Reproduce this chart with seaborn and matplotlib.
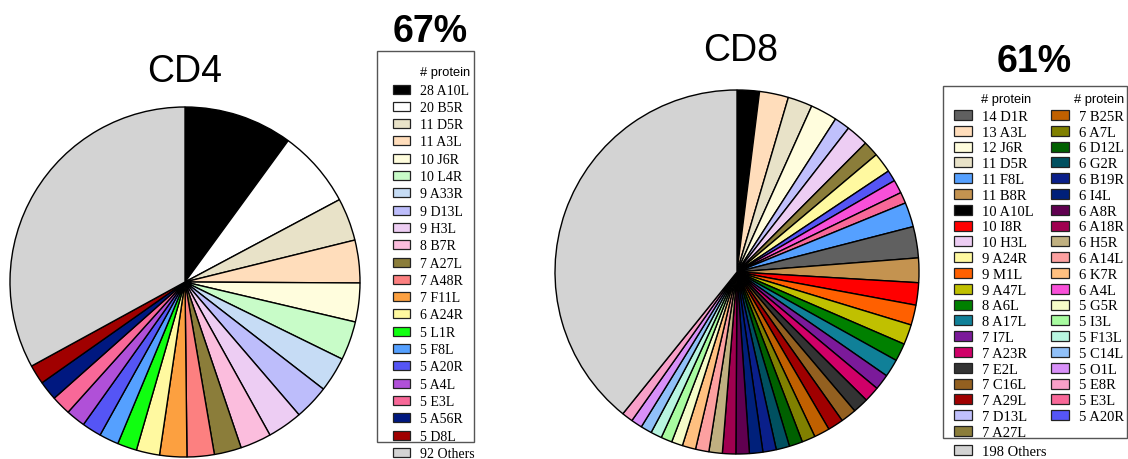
import matplotlib
matplotlib.use("Agg")
import matplotlib.pyplot as plt
from matplotlib.patches import Rectangle
import seaborn as sns

# ---- data -------------------------------------------------------------
cd4_names = ["A10L", "B5R", "D5R", "A3L", "J6R", "L4R", "A33R", "D13L", "H3L",
             "B7R", "A27L", "A48R", "F11L", "A24R", "L1R", "F8L", "A20R", "A4L",
             "E3L", "A56R", "D8L"]
cd4_counts = [28, 20, 11, 11, 10, 10, 9, 9, 9, 8, 7, 7, 7, 6, 5, 5, 5, 5, 5, 5, 5]
cd4_colors = ["#000000", "#FFFFFF", "#E8E2C8", "#FFDDBB", "#FFFDDD", "#C8FCC8",
              "#C6DCF5", "#BDBDFB", "#EDCDF3", "#FBBDDD", "#8B7D3A", "#FC8080",
              "#FCA040", "#FFF9A0", "#10FF10", "#55A0FF", "#5555F5", "#B050D8",
              "#F86898", "#001880", "#A00000"]
cd4_others = 92
cd4_share = "67%"

cd8_names = ["D1R", "A3L", "J6R", "D5R", "F8L", "B8R", "A10L", "I8R", "H3L",
             "A24R", "M1L", "A47L", "A6L", "A17L", "I7L", "A23R", "E2L", "C16L",
             "A29L", "D13L", "A27L",
             "B25R", "A7L", "D12L", "G2R", "B19R", "I4L", "A8R", "A18R", "H5R",
             "A14L", "K7R", "A4L", "G5R", "I3L", "F13L", "C14L", "O1L", "E8R",
             "E3L", "A20R"]
cd8_counts = [14, 13, 12, 11, 11, 11, 10, 10, 10, 9, 9, 9, 8, 8, 7, 7, 7, 7, 7, 7, 7,
              7, 6, 6, 6, 6, 6, 6, 6, 6, 6, 6, 6, 5, 5, 5, 5, 5, 5, 5, 5]
cd8_colors = ["#606060", "#FFDDBB", "#FFFDDD", "#E8E2C8", "#55A0FF", "#C49350",
              "#000000", "#FF0000", "#EDCDF3", "#FFF9A0", "#FF6000", "#C0C000",
              "#008000", "#108098", "#7B1A9A", "#D00068", "#333333", "#936020",
              "#A00000", "#C0C0FC", "#8B7D3A",
              "#C06000", "#808000", "#006000", "#005060", "#0A1F8A", "#00207A",
              "#600050", "#A00050", "#C0B080", "#FCA0A0", "#FFC080", "#F850D8",
              "#F5FCC8", "#A8FCA0", "#B8F5E0", "#90C0F8", "#D890F8", "#F8A0C8",
              "#F86898", "#5555F5"]
cd8_pie_order = ["A10L", "A3L", "D5R", "J6R", "D13L", "H3L", "A27L", "A24R", "A20R",
                 "A4L", "E3L", "F8L", "D1R", "B8R", "I8R", "M1L", "A47L", "A6L",
                 "A17L", "I7L", "A23R", "E2L", "C16L", "A29L", "B25R", "A7L", "D12L",
                 "G2R", "B19R", "I4L", "A8R", "A18R", "H5R", "A14L", "K7R", "G5R",
                 "I3L", "F13L", "C14L", "O1L", "E8R"]
cd8_others = 198
cd8_share = "61%"

others_color = "#D3D3D3"
header = "# protein"

# ---- figure -------------------------------------------------------------
sns.set_theme(style="white")
plt.rcParams["font.family"] = ["Liberation Sans", "DejaVu Sans"]
plt.rcParams["text.color"] = "black"

W, H = 1128, 460
fig = plt.figure(figsize=(W / 100, H / 100), dpi=100)
fig.patch.set_facecolor("white")


def fx(px):
    return px / W


def fy(py):
    return 1 - py / H


def pie_axes(cx, cy, r, values, colors):
    ax = fig.add_axes([fx(cx - r), fy(cy + r), 2 * r / W, 2 * r / H])
    wedges, _ = ax.pie(values, colors=colors, startangle=90, counterclock=False,
                       wedgeprops=dict(edgecolor="black", linewidth=1.0))
    for w in wedges:
        w.set_clip_on(False)
    ax.set_xlim(-1, 1)
    ax.set_ylim(-1, 1)
    ax.set_aspect("equal")
    ax.axis("off")
    return ax


def key_entry(x_sw, x_tx, y, color, label, fs, sw_w, sw_h):
    fig.add_artist(Rectangle((fx(x_sw), fy(y + sw_h / 2)), sw_w / W, sw_h / H,
                             transform=fig.transFigure, facecolor=color,
                             edgecolor="#222222", linewidth=0.9))
    fs_px = fs * 100 / 72
    fig.text(fx(x_tx), fy(y + 0.33 * fs_px), label, family="Liberation Serif",
             fontsize=fs, va="baseline", ha="left", color="black")


def key_header(x, y, fs):
    fs_px = fs * 100 / 72
    fig.text(fx(x), fy(y + 0.36 * fs_px), header, family="Liberation Sans",
             fontsize=fs, va="baseline", ha="left", color="black")


def key_frame(x0, y0, x1, y1):
    fig.add_artist(Rectangle((fx(x0), fy(y1)), (x1 - x0) / W, (y1 - y0) / H,
                             transform=fig.transFigure, facecolor="none",
                             edgecolor="#555555", linewidth=1.0))


# ---- CD4 ----------------------------------------------------------------
pie_axes(185, 283, 175, cd4_counts + [cd4_others], cd4_colors + [others_color])
fig.text(fx(185), fy(82), "CD4", ha="center", va="baseline", fontsize=27,
         color="black")
fig.text(fx(430), fy(42), cd4_share, ha="center", va="baseline", fontsize=27,
         fontweight="bold", color="black")

key_frame(377, 52, 474, 443)
key_header(420, 71, 9.3)
for i, (n, c, col) in enumerate(zip(cd4_names, cd4_counts, cd4_colors)):
    key_entry(393, 420, 90 + i * 17.3, col, f"{c} {n}", 10, 17, 9)
key_entry(393, 420, 453, others_color, f"{cd4_others} Others", 10, 17, 9)

# ---- CD8 ----------------------------------------------------------------
lookup = {n: (c, col) for n, c, col in zip(cd8_names, cd8_counts, cd8_colors)}
pie_vals = [lookup[n][0] for n in cd8_pie_order] + [cd8_others]
pie_cols = [lookup[n][1] for n in cd8_pie_order] + [others_color]
pie_axes(737, 273, 182, pie_vals, pie_cols)
fig.text(fx(741), fy(61), "CD8", ha="center", va="baseline", fontsize=27,
         color="black")
fig.text(fx(1034), fy(72), cd8_share, ha="center", va="baseline", fontsize=27,
         fontweight="bold", color="black")

key_frame(943, 87, 1127, 439)
key_header(981, 98, 9.3)
key_header(1074, 98, 9.3)
n_first = 21
for i, (n, c, col) in enumerate(zip(cd8_names, cd8_counts, cd8_colors)):
    colm, row = divmod(i, n_first)
    xs = 954 if colm == 0 else 1051
    key_entry(xs, xs + 28, 116 + row * 15.8, col, f"{c} {n}", 10.5, 18, 10)
key_entry(954, 982, 451, others_color, f"{cd8_others} Others", 10.5, 18, 10)

fig.savefig("out.png", dpi=100, facecolor="white")
